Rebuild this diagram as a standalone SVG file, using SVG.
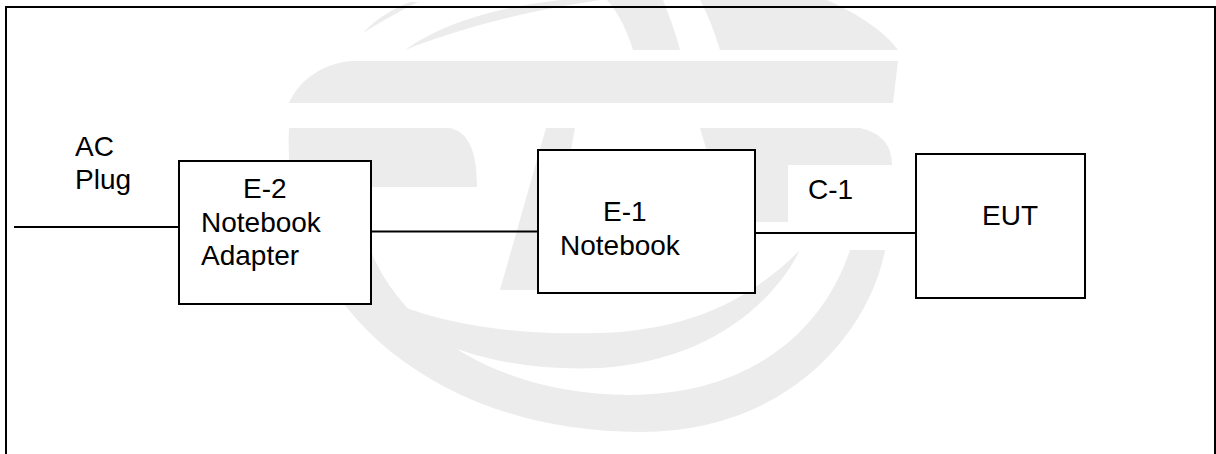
<svg xmlns="http://www.w3.org/2000/svg" width="1216" height="454" viewBox="0 0 1216 454">
<style>
.wm{fill:#ececec;stroke:none}
.box{fill:#ffffff;stroke:#000000;stroke-width:2}
.ln{fill:none;stroke:#000000;stroke-width:2}
.t{font-family:"Liberation Sans",Arial,sans-serif;font-size:28px;fill:#000000}
</style>
<rect x="0" y="0" width="1216" height="454" fill="#ffffff"/>
<g id="watermark">
<path class="wm" d="M289,103 C300,78 325,63 352,61 L898,61 L893,103 Z"/>
<path class="wm" d="M405,50 C440,25 490,8 560,0 L600,0 C520,12 455,30 405,50 Z"/>
<path class="wm" d="M363,33 C375,20 390,10 410,2 L418,2 C398,12 380,22 363,33 Z"/>
<path class="wm" d="M607,0 L663,0 C670,18 676,34 680,50 L633,50 C628,33 620,15 607,0 Z"/>
<path class="wm" d="M700,0 L827,0 C860,15 885,32 898,50 L720,50 C715,33 708,15 700,0 Z"/>
<path class="wm" d="M289,128 L450,128 C468,132 477,150 477,187 L357,187 C360,300 470,395 630,395 C740,395 820,340 850,250 L885,250 C870,330 790,432 640,432 C430,432 280,300 289,128 Z"/>
<path class="wm" d="M367,290 C420,350 510,372 600,368 C700,362 770,310 800,250 C750,300 690,330 600,333 C500,336 420,320 367,290 Z"/>
<path class="wm" d="M700,128 L860,128 Q892,135 892,165 L788,165 L788,222 L728,222 Z"/>
<path class="wm" d="M546,128 L575,128 L545,290 L500,290 Z"/>
</g>
<rect x="6" y="7" width="1209" height="460" fill="none" stroke="#000000" stroke-width="2"/>
<g id="connectors">
<line class="ln" x1="14" y1="227" x2="179" y2="227"/>
<line class="ln" x1="371" y1="231.5" x2="538" y2="231.5"/>
<line class="ln" x1="755" y1="233" x2="916" y2="233"/>
</g>
<g id="ac-plug">
<text class="t" x="75" y="156">AC</text>
<text class="t" x="75" y="189">Plug</text>
</g>
<g id="e2">
<rect class="box" x="179" y="161" width="192" height="143"/>
<text class="t" x="243" y="198">E-2</text>
<text class="t" x="201" y="232">Notebook</text>
<text class="t" x="201" y="265">Adapter</text>
</g>
<g id="e1">
<rect class="box" x="538" y="150" width="217" height="143"/>
<text class="t" x="603" y="221">E-1</text>
<text class="t" x="560" y="255">Notebook</text>
</g>
<g id="c1-label">
<text class="t" x="808" y="199">C-1</text>
</g>
<g id="eut">
<rect class="box" x="916" y="154" width="169" height="144"/>
<text class="t" x="982" y="225">EUT</text>
</g>
</svg>
